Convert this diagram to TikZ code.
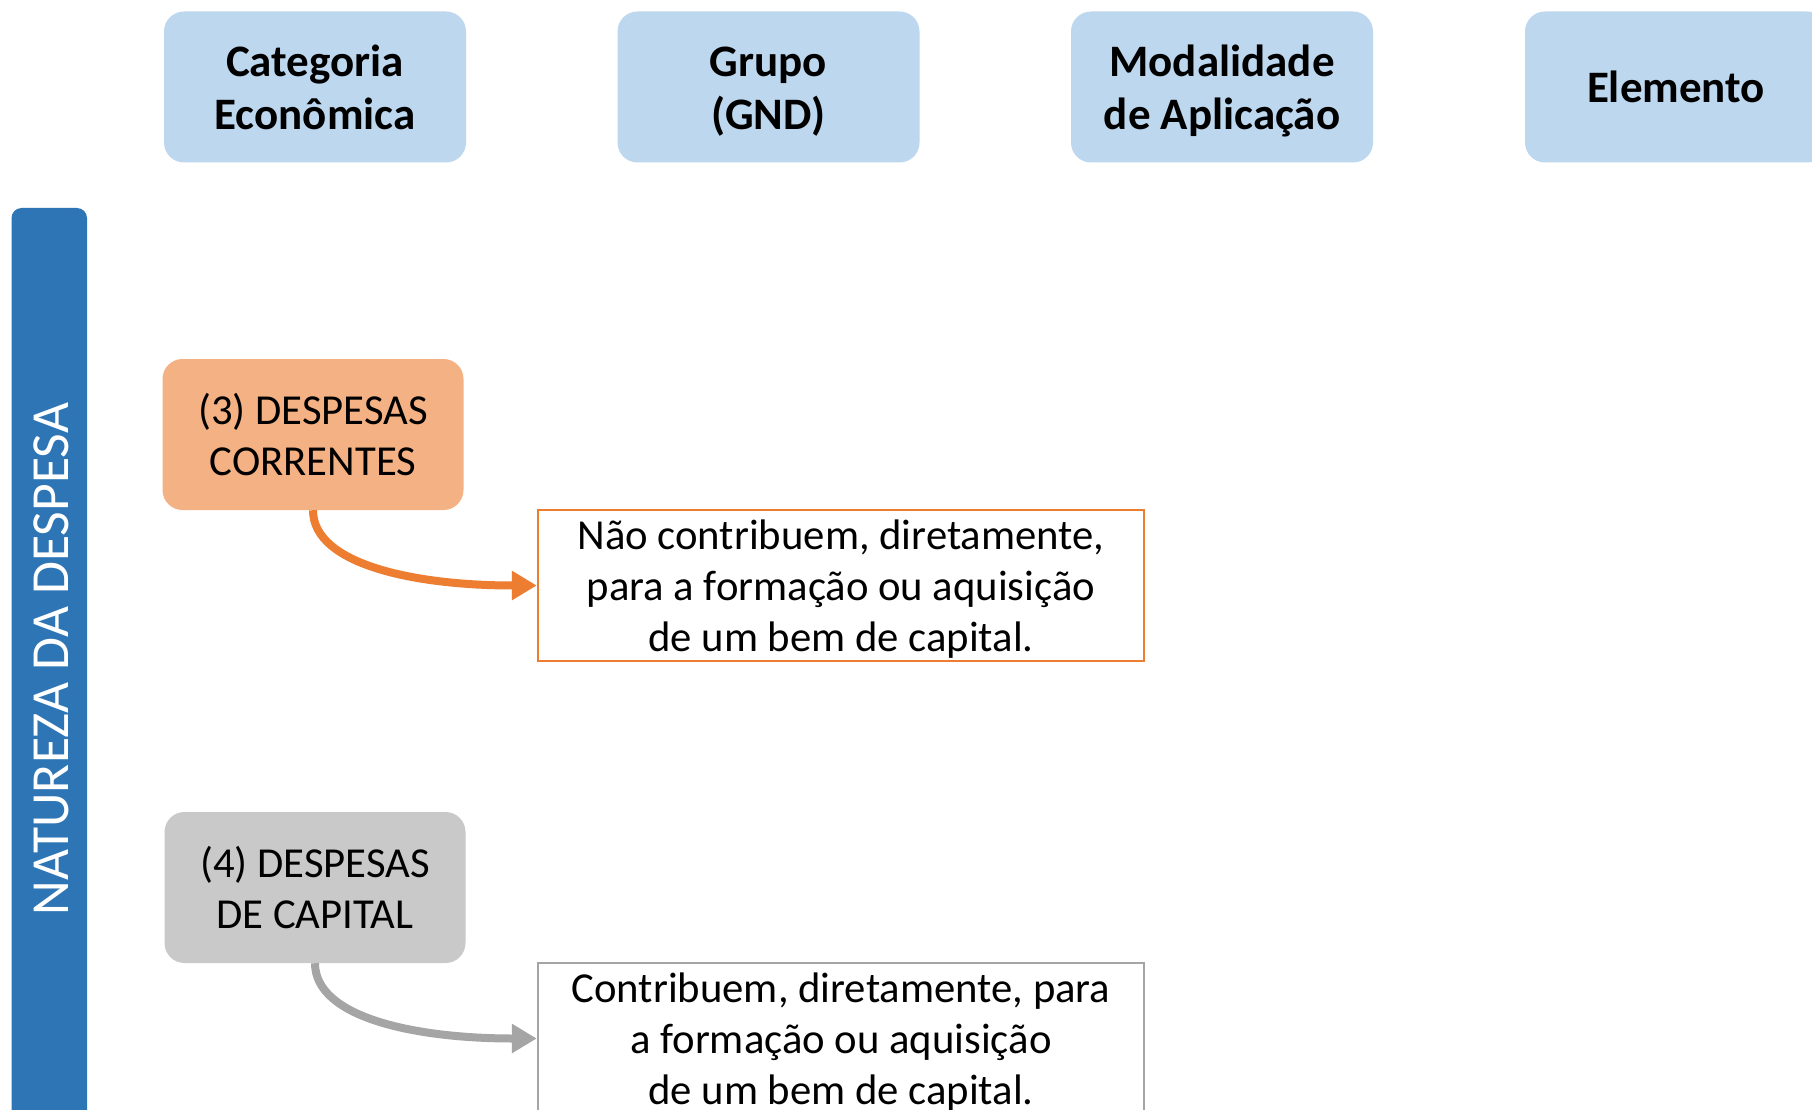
\documentclass[tikz,border=0pt]{standalone}
\usepackage{fontspec}
\setmainfont{Carlito}
\usetikzlibrary{arrows.meta,calc}
\definecolor{hdrblue}{HTML}{BDD7EE}
\definecolor{barblue}{HTML}{2E75B6}
\definecolor{orfill}{HTML}{F4B183}
\definecolor{orline}{HTML}{ED7D31}
\definecolor{gyfill}{HTML}{C9C9C9}
\definecolor{gyline}{HTML}{A5A5A5}
\newcommand\tstrut{\rule{0pt}{\dimexpr0.7\baselineskip+10pt\relax}}
\tikzset{
  hdr/.style={fill=hdrblue, rounded corners=20pt, minimum width=302pt, minimum height=151pt,
    align=center, inner sep=0pt, font=\fontsize{45}{53}\selectfont\bfseries},
  catbox/.style={rounded corners=20pt, minimum width=301pt, minimum height=151pt,
    align=center, inner sep=0pt, font=\fontsize{42.7}{51}\selectfont},
  descbox/.style={draw, fill=white, line width=2.5pt, minimum width=606pt, minimum height=151pt,
    align=center, inner sep=0pt, text height=141pt, text depth=10pt,
    font=\fontsize{42.7}{51}\selectfont},
  conn/.style={line width=8pt, -{Triangle[length=25pt,width=28pt]}},
}
\begin{document}
\begin{tikzpicture}[x=1pt,y=-1pt]
\useasboundingbox (0,0) rectangle (1812,1110);
\clip (0,0) rectangle (1812,1110);
\fill[white] (0,0) rectangle (1812,1110);
% headers
\node[hdr] (h1) at (315,87) {\tstrut Categoria\\\strut Econômica};
\node[hdr] (h2) at (768.5,87) {\tstrut Grupo\\\strut (GND)};
\node[hdr] (h3) at (1222,87) {\tstrut Modalidade\\\strut de Aplicação};
\node[hdr] (h4) at (1676,87) {\tstrut Elemento\strut};
% side bar
\node[fill=barblue, rounded corners=10pt, minimum width=75.5pt, minimum height=940pt, inner sep=0pt] (bar) at (49.25,678) {};
\node[rotate=90, text=white, font=\fontsize{53.6}{64}\selectfont, inner sep=0pt] (bartext) at (51,659) {NATUREZA DA DESPESA};
% categories
\node[catbox, fill=orfill] (c3) at (313,434.5) {\tstrut(3) DESPESAS\\\strut CORRENTES};
\node[catbox, fill=gyfill] (c4) at (315,887.5) {\tstrut(4) DESPESAS\\\strut DE CAPITAL};
% descriptions
\node[descbox, draw=orline] (d3) at (841,585.5) {Não contribuem, diretamente,\\para a formação ou aquisição\\de um bem de capital.};
\node[descbox, draw=gyline] (d4) at (841,1038.5) {Contribuem, diretamente, para\\a formação ou aquisição\\de um bem de capital.};
% connectors
\draw[conn, orline] (c3.south) .. controls ($(c3.south)+(0,55)$) and ($(d3.west)+(-120,0)$) .. (d3.west);
\draw[conn, gyline] (c4.south) .. controls ($(c4.south)+(0,55)$) and ($(d4.west)+(-120,0)$) .. (d4.west);
\end{tikzpicture}
\end{document}
